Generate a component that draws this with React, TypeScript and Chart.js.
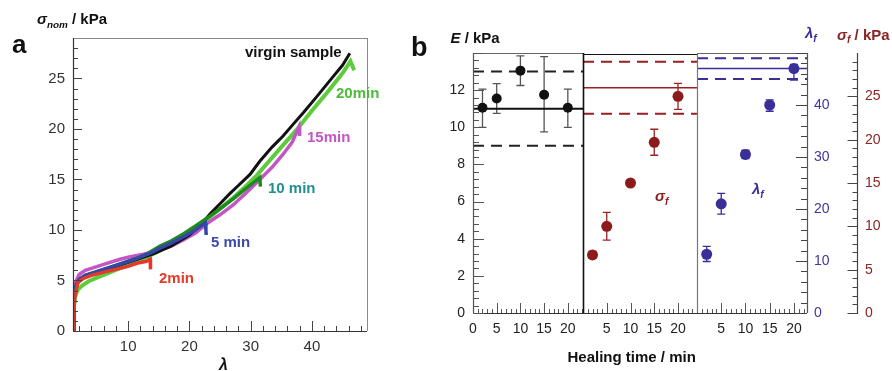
import React, { useEffect, useRef } from 'react';
import { Chart, registerables } from 'chart.js';
Chart.register(...registerables);

const FF = "'Liberation Sans', Arial, Helvetica, sans-serif";
const W = 892;
const H = 371;

// ---------------- Panel a: stress-strain curves ----------------
const virginLambda = [1, 1.15, 1.5, 2, 3, 5, 8, 11, 14, 17, 20, 22, 23.4, 25, 26.6, 28, 29.9, 31.5, 33.5, 35.3, 37, 38.6, 40.8, 43.5, 45, 46.2];
const virginStress = [0, 3.0, 4.4, 5.0, 5.4, 5.8, 6.4, 7.0, 7.6, 8.4, 9.5, 10.6, 11.6, 12.6, 13.6, 14.4, 15.5, 16.8, 18.2, 19.3, 20.5, 21.6, 23.2, 25.2, 26.3, 27.5];

const heal20Lambda = [1, 1.15, 1.4, 1.8, 2.5, 3.5, 5, 7, 9, 11, 13, 15, 17, 19, 21, 23, 25, 27, 29, 31, 33, 35, 37.5, 40, 42.5, 45, 46.3, 46.9];
const heal20Stress = [0, 2.5, 3.5, 4.1, 4.5, 4.9, 5.3, 5.8, 6.3, 6.8, 7.3, 7.9, 8.6, 9.4, 10.2, 11.1, 12.1, 13.1, 14.2, 15.4, 16.8, 18.2, 19.9, 21.8, 23.6, 25.5, 26.7, 25.8];

const heal15Lambda = [1, 1.1, 1.4, 2, 3, 4, 6, 8.7, 10, 12.5, 15.2, 17, 19, 21, 22.8, 25, 27.2, 29.5, 31.5, 33.5, 35.3, 36.8, 37.9, 38.0];
const heal15Stress = [0, 3.0, 4.8, 5.6, 6.0, 6.2, 6.6, 7.1, 7.3, 7.6, 8.0, 8.4, 9.0, 9.7, 10.6, 11.5, 12.5, 13.8, 15.0, 16.2, 17.5, 18.7, 20.2, 19.3];

const heal10Lambda = [1, 1.15, 1.5, 2, 3, 5, 8, 11, 13, 15.2, 17, 19, 21, 23.4, 25, 27.2, 29, 30.5, 31.5, 31.6];
const heal10Stress = [0, 3.2, 4.5, 5.1, 5.5, 5.9, 6.5, 7.1, 7.6, 8.4, 8.9, 9.6, 10.4, 11.4, 12.1, 13.1, 14.0, 14.7, 15.2, 14.3];

const heal5Lambda = [1, 1.15, 1.5, 2, 3, 5, 8, 11, 13.6, 15.2, 17, 19, 21, 22.6, 22.7, 22.75];
const heal5Stress = [0, 3.0, 4.5, 5.1, 5.5, 5.9, 6.5, 7.1, 7.7, 8.2, 8.7, 9.3, 10.0, 10.7, 10.0, 9.5];

const heal2Lambda = [1, 1.1, 1.3, 1.8, 2.7, 4, 5.9, 8, 10, 11.4, 13.0, 13.6, 13.65];
const heal2Stress = [0, 1.5, 3.5, 4.8, 5.2, 5.5, 5.8, 6.1, 6.4, 6.7, 6.9, 7.1, 6.1];

const aXTicks = [10, 20, 30, 40];
const aYTicks = [0, 5, 10, 15, 20, 25];

// ---------------- Panel b: healing ----------------
const healTimes = [2, 5, 10, 15, 20];
const modulusE = [11.05, 11.55, 13.05, 11.75, 11.05];
const modulusELow = [10.0, 10.75, 12.25, 9.75, 10.0];
const modulusEHigh = [12.05, 12.35, 13.85, 13.8, 12.05];
const modulusVirgin = 11.0;
const modulusVirginLow = 9.0;
const modulusVirginHigh = 13.0;

const stressF = [6.7, 10.0, 15.0, 19.7, 25.0];
const stressFLow = [6.3, 8.4, 14.7, 18.2, 23.5];
const stressFHigh = [7.1, 11.6, 15.3, 21.2, 26.5];
const stressVirgin = 26.0;
const stressVirginLow = 23.0;
const stressVirginHigh = 29.0;

const lambdaF = [11.3, 21.0, 30.5, 40.0, 47.0];
const lambdaFLow = [9.9, 19.0, 29.7, 38.8, 44.8];
const lambdaFHigh = [12.8, 23.0, 31.3, 41.0, 47.8];
const lambdaVirgin = 47.0;
const lambdaVirginLow = 45.0;
const lambdaVirginHigh = 49.0;

const eTicks = [0, 2, 4, 6, 8, 10, 12];
const timeTicksFirst = [0, 5, 10, 15, 20];
const timeTicksOther = [5, 10, 15, 20];
const lambdaFTicks = [0, 10, 20, 30, 40];
const stressFTicks = [0, 5, 10, 15, 20, 25];

const RED = '#8c1c1c';
const RED_TXT = '#8b2424';
const BLUE = '#3a2e98';
const BLUE_TXT = '#3f36a0';

const pts = (xs: number[], ys: number[]) => xs.map((x, i) => ({ x, y: ys[i] }));

function line(ctx: CanvasRenderingContext2D, x1: number, y1: number, x2: number, y2: number, color: string, lw = 1) {
  ctx.save();
  ctx.strokeStyle = color;
  ctx.lineWidth = lw;
  ctx.beginPath();
  ctx.moveTo(x1, y1);
  ctx.lineTo(x2, y2);
  ctx.stroke();
  ctx.restore();
}

function ticksY(ctx: CanvasRenderingContext2D, scale: any, x: number, dir: number, from: number, to: number, step: number, major: number, lenMaj: number, lenMin: number, color: string) {
  ctx.save();
  ctx.strokeStyle = color;
  ctx.lineWidth = 1;
  ctx.beginPath();
  const n = Math.round((to - from) / step);
  for (let i = 0; i <= n; i++) {
    const v = from + i * step;
    const isMaj = Math.abs(v / major - Math.round(v / major)) < 1e-6;
    const y = Math.round(scale.getPixelForValue(v)) + 0.5;
    ctx.moveTo(x, y);
    ctx.lineTo(x + dir * (isMaj ? lenMaj : lenMin), y);
  }
  ctx.stroke();
  ctx.restore();
}

function ticksX(ctx: CanvasRenderingContext2D, scale: any, y: number, dir: number, from: number, to: number, step: number, major: number, lenMaj: number, lenMin: number, color: string) {
  ctx.save();
  ctx.strokeStyle = color;
  ctx.lineWidth = 1;
  ctx.beginPath();
  const n = Math.round((to - from) / step);
  for (let i = 0; i <= n; i++) {
    const v = from + i * step;
    const isMaj = Math.abs(v / major - Math.round(v / major)) < 1e-6;
    const x = Math.round(scale.getPixelForValue(v)) + 0.5;
    ctx.moveTo(x, y);
    ctx.lineTo(x, y + dir * (isMaj ? lenMaj : lenMin));
  }
  ctx.stroke();
  ctx.restore();
}

function errBars(ctx: CanvasRenderingContext2D, xs: number[], lo: number[], hi: number[], xs_: any, ys_: any, color: string) {
  ctx.save();
  ctx.strokeStyle = color;
  ctx.lineWidth = 1.3;
  ctx.beginPath();
  xs.forEach((x, i) => {
    const px = xs_.getPixelForValue(x);
    const p1 = ys_.getPixelForValue(lo[i]);
    const p2 = ys_.getPixelForValue(hi[i]);
    ctx.moveTo(px, p1);
    ctx.lineTo(px, p2);
    ctx.moveTo(px - 4, p1);
    ctx.lineTo(px + 4, p1);
    ctx.moveTo(px - 4, p2);
    ctx.lineTo(px + 4, p2);
  });
  ctx.stroke();
  ctx.restore();
}

function axis(min: number, max: number, tickArr: number[], fit: (s: any) => void, color: string, size: number, padding: number, position?: string) {
  return {
    type: 'linear',
    min,
    max,
    position,
    grid: { display: false, drawTicks: false },
    border: { display: false },
    ticks: {
      color,
      font: { family: FF, size },
      padding,
      autoSkip: false,
      maxRotation: 0,
      callback: (v: any) => String(v),
    },
    afterBuildTicks: (s: any) => {
      s.ticks = tickArr.map((v) => ({ value: v }));
    },
    afterFit: fit,
  } as any;
}

const hiddenAxis = (min: number, max: number, position?: string) => ({ type: 'linear', min, max, position, display: false } as any);

const curve = (data: any[], color: string, order: number, width = 3.5) => ({
  data,
  showLine: true,
  borderColor: color,
  backgroundColor: color,
  borderWidth: width,
  pointRadius: 0,
  tension: 0,
  order,
});

const hline = (xmin: number, xmax: number, y: number, color: string, width: number, dash: number[] = []) => ({
  data: [{ x: xmin, y }, { x: xmax, y }],
  showLine: true,
  borderColor: color,
  borderWidth: width,
  borderDash: dash,
  pointRadius: 0,
  order: 5,
});

const markers = (xs: number[], ys: number[], color: string, r: number) => ({
  data: pts(xs, ys),
  showLine: false,
  pointRadius: r,
  pointHoverRadius: r,
  pointBackgroundColor: color,
  pointBorderColor: color,
  pointBorderWidth: 0,
  order: 0,
});

const baseOpts = (padding: any, scales: any) => ({
  responsive: false,
  animation: false,
  events: [],
  layout: { padding },
  plugins: { legend: { display: false }, tooltip: { enabled: false } },
  scales,
});

type LabelProps = { x: number; base: number; size?: number; color?: string; italic?: boolean; weight?: number; children: any };
const Label = ({ x, base, size = 15, color = '#111', italic = false, weight = 700, children }: LabelProps) => (
  <span
    style={{
      position: 'absolute',
      left: x,
      top: base - 0.8465 * size,
      fontSize: size,
      lineHeight: `${size}px`,
      fontFamily: FF,
      fontWeight: weight,
      fontStyle: italic ? 'italic' : 'normal',
      color,
      whiteSpace: 'nowrap',
    }}
  >
    {children}
  </span>
);

const Sub = ({ children, size = '0.68em' }: { children: any; size?: string }) => (
  <span style={{ fontSize: size, position: 'relative', top: '0.35em', fontStyle: 'italic' }}>{children}</span>
);

export default function App() {
  const refA = useRef<HTMLCanvasElement>(null);
  const refE = useRef<HTMLCanvasElement>(null);
  const refS = useRef<HTMLCanvasElement>(null);
  const refL = useRef<HTMLCanvasElement>(null);
  const refAx = useRef<HTMLCanvasElement>(null);

  useEffect(() => {
    const charts: Chart[] = [];

    // ---- Panel a ----
    charts.push(
      new Chart(refA.current!, {
        type: 'scatter',
        data: {
          datasets: [
            curve(pts(heal2Lambda, heal2Stress), '#e5372a', 0),
            curve(pts(heal5Lambda, heal5Stress), '#3545aa', 1),
            curve(pts(heal10Lambda, heal10Stress), '#1f8a1f', 2),
            curve(pts(virginLambda, virginStress), '#111111', 3, 3),
            curve(pts(heal15Lambda, heal15Stress), '#c455c4', 4),
            curve(pts(heal20Lambda, heal20Stress), '#5dcc3c', 5, 4),
          ] as any,
        },
        options: baseOpts(
          { left: 0, top: 38, right: W - 367, bottom: 0 },
          {
            x: axis(1, 49, aXTicks, (s) => { s.height = H - 331; }, '#333', 15, 7),
            y: axis(0, 29, aYTicks, (s) => { s.width = 73; }, '#333', 15, 8),
          }
        ) as any,
        plugins: [
          {
            id: 'decorA',
            afterDraw(chart: any) {
              const { ctx, chartArea: a, scales } = chart;
              line(ctx, a.left, a.top + 0.5, a.right, a.top + 0.5, '#8a8a8a', 1);
              line(ctx, a.right + 0.5, a.top, a.right + 0.5, a.bottom, '#8a8a8a', 1);
              line(ctx, a.left + 0.5, a.top, a.left + 0.5, a.bottom, '#333', 1.2);
              line(ctx, a.left, a.bottom + 0.5, a.right, a.bottom + 0.5, '#333', 1.2);
              ticksY(ctx, scales.y, a.left, 1, 0, 28, 1, 5, 9, 5, '#444');
              ticksX(ctx, scales.x, a.bottom, -1, 2, 48, 2, 10, 10, 5, '#444');
            },
          },
        ],
      })
    );

    // ---- Panel b: E ----
    charts.push(
      new Chart(refE.current!, {
        type: 'scatter',
        data: {
          datasets: [
            markers(healTimes, modulusE, '#111', 5),
            hline(0, 23.2, modulusVirgin, '#111', 2),
            hline(0, 23.2, modulusVirginLow, '#222', 2, [11, 7]),
            hline(0, 23.2, modulusVirginHigh, '#222', 2, [11, 7]),
          ] as any,
        },
        options: baseOpts(
          { left: 0, top: 53, right: W - 583, bottom: 0 },
          {
            x: axis(0, 23.2, timeTicksFirst, (s) => { s.height = H - 313; }, '#222', 14, 8),
            y: axis(0, 14, eTicks, (s) => { s.width = 473; }, '#222', 14, 8),
          }
        ) as any,
        plugins: [
          {
            id: 'decorE',
            beforeDatasetsDraw(chart: any) {
              const { ctx, scales } = chart;
              errBars(ctx, healTimes, modulusELow, modulusEHigh, scales.x, scales.y, '#555');
            },
            afterDraw(chart: any) {
              const { ctx, chartArea: a, scales } = chart;
              line(ctx, a.left, a.top + 0.5, a.right, a.top + 0.5, '#666', 1.2);
              line(ctx, a.left + 0.5, a.top, a.left + 0.5, a.bottom, '#555', 1.2);
              line(ctx, a.left, a.bottom + 0.5, a.right, a.bottom + 0.5, '#333', 1.2);
              ticksY(ctx, scales.y, a.left, 1, 0, 14, 0.4, 2, 11, 6, '#555');
              ticksX(ctx, scales.x, a.bottom, -1, 1, 23, 1, 5, 10, 4, '#555');
            },
          },
        ],
      })
    );

    // ---- Panel b: sigma_f (data) ----
    charts.push(
      new Chart(refS.current!, {
        type: 'scatter',
        data: {
          datasets: [
            markers(healTimes, stressF, RED, 5.5),
            hline(0, 24, stressVirgin, '#9b1e1e', 1.5),
            hline(0, 24, stressVirginLow, '#9b1e1e', 2, [11, 7]),
            hline(0, 24, stressVirginHigh, '#9b1e1e', 2, [11, 7]),
          ] as any,
        },
        options: baseOpts(
          { left: 583, top: 53, right: W - 697, bottom: 0 },
          {
            x: axis(0, 24, timeTicksOther, (s) => { s.height = H - 313; }, '#222', 14, 8),
            y: hiddenAxis(0, 30, 'right'),
          }
        ) as any,
        plugins: [
          {
            id: 'decorS',
            beforeDatasetsDraw(chart: any) {
              const { ctx, scales } = chart;
              errBars(ctx, healTimes, stressFLow, stressFHigh, scales.x, scales.y, '#9b2424');
            },
            afterDraw(chart: any) {
              const { ctx, chartArea: a, scales } = chart;
              line(ctx, a.left, a.top + 1.5, a.right, a.top + 1.5, '#111', 1);
              line(ctx, a.left, a.bottom + 0.5, a.right, a.bottom + 0.5, '#333', 1.2);
              line(ctx, a.left + 0.5, a.top, a.left + 0.5, a.bottom, '#111', 1.6);
              ticksX(ctx, scales.x, a.bottom, -1, 1, 23, 1, 5, 10, 4, '#555');
            },
          },
        ],
      })
    );

    // ---- Panel b: sigma_f axis (stand-alone) ----
    charts.push(
      new Chart(refAx.current!, {
        type: 'scatter',
        data: { datasets: [] },
        options: baseOpts(
          { left: 840, top: 53, right: 0, bottom: H - 313 },
          {
            x: hiddenAxis(0, 1),
            y: axis(0, 30, stressFTicks, (s) => { s.width = W - 857; }, RED_TXT, 14, 8, 'right'),
          }
        ) as any,
        plugins: [
          {
            id: 'decorAx',
            afterDraw(chart: any) {
              const { ctx, chartArea: a, scales } = chart;
              const ax = a.right + 0.5;
              line(ctx, ax, a.top, ax, a.bottom + 1, '#444', 1.2);
              ticksY(ctx, scales.y, ax, -1, 0, 29, 1, 5, 10, 5, '#444');
            },
          },
        ],
      })
    );

    // ---- Panel b: lambda_f ----
    charts.push(
      new Chart(refL.current!, {
        type: 'scatter',
        data: {
          datasets: [
            markers(healTimes, lambdaF, BLUE, 5.5),
            hline(0, 22.7, lambdaVirgin, BLUE, 1.5),
            hline(0, 22.7, lambdaVirginLow, BLUE, 2, [11, 7]),
            hline(0, 22.7, lambdaVirginHigh, BLUE, 2, [11, 7]),
          ] as any,
        },
        options: baseOpts(
          { left: 697, top: 53, right: 0, bottom: 0 },
          {
            x: axis(0, 22.7, timeTicksOther, (s) => { s.height = H - 313; }, '#222', 14, 8),
            y: axis(0, 50, lambdaFTicks, (s) => { s.width = W - 807; }, BLUE_TXT, 14, 7, 'right'),
          }
        ) as any,
        plugins: [
          {
            id: 'decorL',
            beforeDatasetsDraw(chart: any) {
              const { ctx, scales } = chart;
              errBars(ctx, healTimes, lambdaFLow, lambdaFHigh, scales.x, scales.y, BLUE);
            },
            afterDraw(chart: any) {
              const { ctx, chartArea: a, scales } = chart;
              line(ctx, a.left, a.top + 0.5, a.right, a.top + 0.5, '#666', 1.2);
              line(ctx, a.left + 0.5, a.top, a.left + 0.5, a.bottom, '#777', 1.2);
              line(ctx, a.right + 0.5, a.top, a.right + 0.5, a.bottom, '#555', 1.2);
              line(ctx, a.left, a.bottom + 0.5, a.right, a.bottom + 0.5, '#333', 1.2);
              ticksX(ctx, scales.x, a.bottom, -1, 1, 22, 1, 5, 10, 4, '#555');
              ticksY(ctx, scales.y, a.right, -1, 0, 50, 2, 10, 11, 6, '#444');
            },
          },
        ],
      })
    );

    return () => charts.forEach((c) => c.destroy());
  }, []);

  const cv = { position: 'absolute' as const, left: 0, top: 0, width: W, height: H };

  return (
    <div style={{ position: 'absolute', left: 0, top: 0, width: W, height: H, background: '#fff', overflow: 'hidden' }}>
      <canvas ref={refA} width={W} height={H} style={cv} />
      <canvas ref={refE} width={W} height={H} style={cv} />
      <canvas ref={refS} width={W} height={H} style={cv} />
      <canvas ref={refAx} width={W} height={H} style={cv} />
      <canvas ref={refL} width={W} height={H} style={cv} />

      {/* panel a */}
      <Label x={12} base={53} size={26}>a</Label>
      <Label x={37} base={24}>
        <i>σ</i>
        <Sub size="0.66em">nom</Sub> / kPa
      </Label>
      <Label x={219} base={371} size={16} italic>λ</Label>
      <Label x={245} base={57}>virgin sample</Label>
      <Label x={336} base={98} color="#4cbb38">20min</Label>
      <Label x={307} base={141.5} color="#c455c4">15min</Label>
      <Label x={268} base={193} color="#1f8f8f">10 min</Label>
      <Label x={211} base={247} color="#3b4aa8">5 min</Label>
      <Label x={159} base={283} color="#e53a2a">2min</Label>

      {/* panel b */}
      <Label x={411} base={56.5} size={27}>b</Label>
      <Label x={450.5} base={42.5}>
        <i>E</i> / kPa
      </Label>
      <Label x={805} base={38} color={BLUE} italic>
        λ<Sub>f</Sub>
      </Label>
      <Label x={837} base={39.5} color={RED_TXT}>
        <i>σ</i>
        <Sub>f</Sub> / kPa
      </Label>
      <Label x={655} base={201} color={RED} italic>
        σ<Sub>f</Sub>
      </Label>
      <Label x={752} base={194} color={BLUE} italic>
        λ<Sub>f</Sub>
      </Label>
      <Label x={567.5} base={362}>Healing time / min</Label>
    </div>
  );
}
